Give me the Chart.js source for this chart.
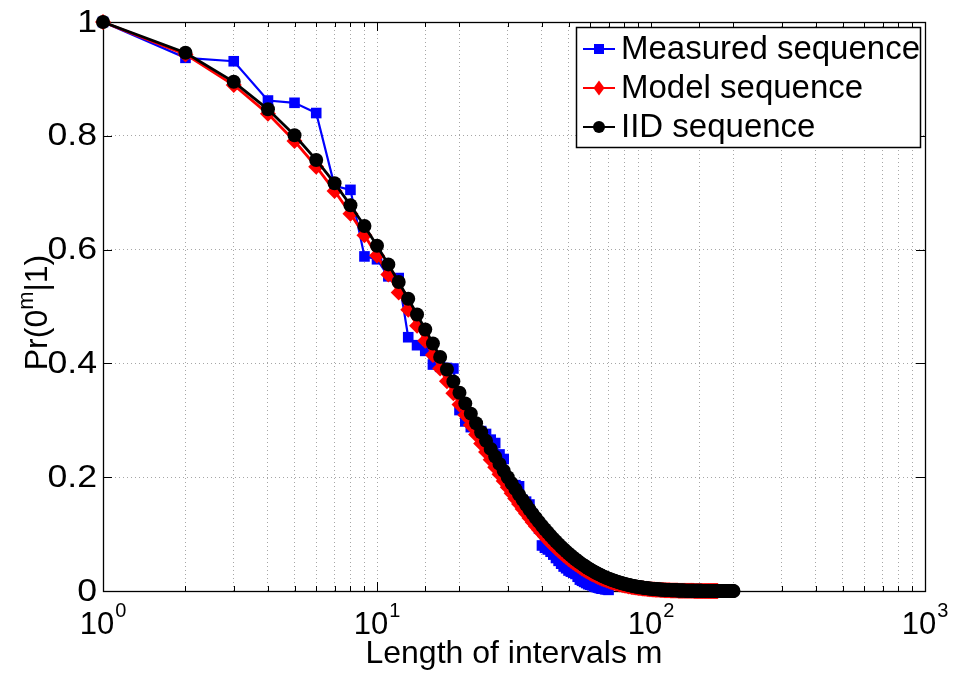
<!DOCTYPE html>
<html>
<head>
<meta charset="utf-8">
<script src="https://cdn.jsdelivr.net/npm/chart.js@4/dist/chart.umd.min.js"></script>
<style>
  html, body { margin: 0; padding: 0; background: #fff; }
  #wrap { width: 953px; height: 673px; position: relative; }
</style>
</head>
<body>
<div id="wrap"><canvas id="c" width="953" height="673"></canvas></div>
<script>
// ---- Data; index i corresponds to m = i + 1 ----
const seriesNames = ['Measured sequence', 'Model sequence', 'IID sequence'];

const measuredValues = [
  1.000, 0.937, 0.931, 0.862, 0.858, 0.840, 0.712, 0.705, 0.588, 0.583,
  0.553, 0.550, 0.446, 0.432, 0.422, 0.398, 0.394, 0.392, 0.391, 0.318,
  0.298, 0.288, 0.284, 0.281, 0.276, 0.266, 0.260, 0.240, 0.232, 0.188,
  0.187, 0.186, 0.184, 0.160, 0.157, 0.152, 0.135, 0.124, 0.110, 0.080,
  0.076, 0.073, 0.069, 0.064, 0.058, 0.053, 0.048, 0.043, 0.040, 0.036,
  0.034, 0.032, 0.030, 0.025, 0.020, 0.018, 0.016, 0.014, 0.012, 0.011,
  0.010, 0.008, 0.007, 0.006, 0.005, 0.004, 0.004, 0.003, 0.003, 0.002
];

const modelValues = [
  1.0000, 0.9430, 0.8892, 0.8386, 0.7908, 0.7457, 0.7032, 0.6631, 0.6253, 0.5897,
  0.5561, 0.5244, 0.4945, 0.4663, 0.4397, 0.4147, 0.3910, 0.3688, 0.3477, 0.3279,
  0.3092, 0.2916, 0.2750, 0.2593, 0.2445, 0.2306, 0.2174, 0.2050, 0.1934, 0.1823,
  0.1719, 0.1621, 0.1529, 0.1442, 0.1360, 0.1282, 0.1209, 0.1140, 0.1075, 0.1014,
  0.0956, 0.0902, 0.0850, 0.0802, 0.0756, 0.0713, 0.0672, 0.0634, 0.0598, 0.0564,
  0.0532, 0.0501, 0.0473, 0.0446, 0.0420, 0.0396, 0.0374, 0.0353, 0.0332, 0.0313,
  0.0296, 0.0279, 0.0263, 0.0248, 0.0234, 0.0220, 0.0208, 0.0196, 0.0185, 0.0174,
  0.0164, 0.0155, 0.0146, 0.0138, 0.0130, 0.0123, 0.0116, 0.0109, 0.0103, 0.0097,
  0.0091, 0.0086, 0.0081, 0.0077, 0.0072, 0.0068, 0.0064, 0.0061, 0.0057, 0.0054,
  0.0051, 0.0048, 0.0045, 0.0043, 0.0040, 0.0038, 0.0036, 0.0034, 0.0032, 0.0030,
  0.0028, 0.0027, 0.0025, 0.0024, 0.0022, 0.0021, 0.0020, 0.0019, 0.0018, 0.0017,
  0.0016, 0.0015, 0.0014, 0.0013, 0.0012, 0.0012, 0.0011, 0.0010, 0.0010, 0.0009,
  0.0009, 0.0008, 0.0008, 0.0007, 0.0007, 0.0006, 0.0006, 0.0006, 0.0005, 0.0005,
  0.0005, 0.0004, 0.0004, 0.0004, 0.0004, 0.0004, 0.0003, 0.0003, 0.0003, 0.0003,
  0.0003, 0.0003, 0.0003, 0.0002, 0.0002, 0.0002, 0.0002, 0.0002, 0.0002, 0.0002,
  0.0002, 0.0002, 0.0002, 0.0002, 0.0002, 0.0001, 0.0001, 0.0001, 0.0001, 0.0001,
  0.0001, 0.0001, 0.0001, 0.0001, 0.0001, 0.0001, 0.0001, 0.0001, 0.0001, 0.0001,
  0.0001, 0.0001, 0.0001, 0.0001, 0.0001
];

const iidValues = [
  1.0000, 0.9460, 0.8949, 0.8466, 0.8009, 0.7576, 0.7167, 0.6780, 0.6414, 0.6068,
  0.5740, 0.5430, 0.5137, 0.4860, 0.4597, 0.4349, 0.4114, 0.3892, 0.3682, 0.3483,
  0.3295, 0.3117, 0.2949, 0.2790, 0.2639, 0.2497, 0.2362, 0.2234, 0.2114, 0.2000,
  0.1892, 0.1790, 0.1693, 0.1602, 0.1515, 0.1433, 0.1356, 0.1283, 0.1214, 0.1148,
  0.1086, 0.1027, 0.0972, 0.0919, 0.0870, 0.0823, 0.0778, 0.0736, 0.0697, 0.0659,
  0.0623, 0.0590, 0.0558, 0.0528, 0.0499, 0.0472, 0.0447, 0.0423, 0.0400, 0.0378,
  0.0358, 0.0338, 0.0320, 0.0303, 0.0287, 0.0271, 0.0256, 0.0243, 0.0229, 0.0217,
  0.0205, 0.0194, 0.0184, 0.0174, 0.0164, 0.0156, 0.0147, 0.0139, 0.0132, 0.0125,
  0.0118, 0.0112, 0.0106, 0.0100, 0.0094, 0.0089, 0.0085, 0.0080, 0.0076, 0.0072,
  0.0068, 0.0064, 0.0061, 0.0057, 0.0054, 0.0051, 0.0049, 0.0046, 0.0044, 0.0041,
  0.0039, 0.0037, 0.0035, 0.0033, 0.0031, 0.0030, 0.0028, 0.0026, 0.0025, 0.0024,
  0.0022, 0.0021, 0.0020, 0.0019, 0.0018, 0.0017, 0.0016, 0.0015, 0.0014, 0.0013,
  0.0013, 0.0012, 0.0011, 0.0011, 0.0010, 0.0009, 0.0009, 0.0008, 0.0008, 0.0008,
  0.0007, 0.0007, 0.0006, 0.0006, 0.0006, 0.0005, 0.0005, 0.0005, 0.0005, 0.0004,
  0.0004, 0.0004, 0.0004, 0.0004, 0.0003, 0.0003, 0.0003, 0.0003, 0.0003, 0.0003,
  0.0003, 0.0003, 0.0003, 0.0002, 0.0002, 0.0002, 0.0002, 0.0002, 0.0002, 0.0002,
  0.0002, 0.0002, 0.0002, 0.0001, 0.0001, 0.0001, 0.0001, 0.0001, 0.0001, 0.0001,
  0.0001, 0.0001, 0.0001, 0.0001, 0.0001, 0.0001, 0.0001, 0.0001, 0.0001, 0.0001,
  0.0001, 0.0001, 0.0001, 0.0001, 0.0001, 0.0001, 0.0001, 0.0001, 0.0001, 0.0001,
  0.0001, 0.0001, 0.0001, 0.0001, 0.0001, 0.0001, 0.0001, 0.0001, 0.0001, 0.0001
];

const xTickExponents = [0, 1, 2, 3];
const yTickLabels = ['0', '0.2', '0.4', '0.6', '0.8', '1'];
const xTitle = 'Length of intervals m';
const yTitleParts = ['Pr(0', 'm', '|1)'];

// ---- build point lists (m = index + 1) ----
const toPoints = arr => arr.map((v, i) => ({ x: i + 1, y: v }));

const FONT = '"Liberation Sans", Arial, Helvetica, sans-serif';

const framePlugin = {
  id: 'frame',
  beforeDatasetsDraw(chart) {
    const { ctx, chartArea: a, scales: { x, y } } = chart;
    ctx.save();
    ctx.strokeStyle = '#000';
    ctx.lineWidth = 1;
    ctx.beginPath();
    x.ticks.forEach(t => {
      const lg = Math.log10(t.value);
      const major = Math.abs(lg - Math.round(lg)) < 1e-9;
      const px = Math.round(x.getPixelForValue(t.value)) + 0.5;
      const len = major ? 9 : 5;
      ctx.moveTo(px, a.bottom); ctx.lineTo(px, a.bottom - len);
      ctx.moveTo(px, a.top); ctx.lineTo(px, a.top + len);
    });
    y.ticks.forEach(t => {
      const py = Math.round(y.getPixelForValue(t.value)) + 0.5;
      ctx.moveTo(a.left, py); ctx.lineTo(a.left + 9, py);
      ctx.moveTo(a.right, py); ctx.lineTo(a.right - 9, py);
    });
    ctx.stroke();
    ctx.lineWidth = 1.3;
    ctx.strokeRect(Math.round(a.left) + 0.5, Math.round(a.top) + 0.5,
                   Math.round(a.width), Math.round(a.height));
    ctx.restore();
  },
  afterDraw(chart) {
    const { ctx, chartArea: a, scales: { x, y } } = chart;
    ctx.save();
    ctx.fillStyle = '#000';
    // y tick labels (slightly wide glyphs, as in the reference)
    ctx.font = '31px ' + FONT;
    ctx.textAlign = 'right';
    ctx.textBaseline = 'middle';
    yTickLabels.forEach(lbl => {
      const py = y.getPixelForValue(parseFloat(lbl));
      ctx.save();
      ctx.translate(a.left - 6, py + 1);
      ctx.scale(1.15, 1);
      ctx.fillText(lbl, 0, 0);
      ctx.restore();
    });
    // x tick labels 10^n
    ctx.textBaseline = 'alphabetic';
    ctx.textAlign = 'left';
    xTickExponents.forEach(e => {
      const px = x.getPixelForValue(Math.pow(10, e));
      ctx.font = '31px ' + FONT;
      const wBase = ctx.measureText('10').width;
      ctx.font = '20px ' + FONT;
      const wExp = ctx.measureText(String(e)).width;
      const start = px - (wBase + wExp + 1) / 2;
      ctx.font = '31px ' + FONT;
      ctx.fillText('10', start, a.bottom + 43);
      ctx.font = '20px ' + FONT;
      ctx.fillText(String(e), start + wBase + 1, a.bottom + 26);
    });
    // x title
    ctx.font = '32px ' + FONT;
    ctx.textAlign = 'center';
    ctx.fillText(xTitle, (a.left + a.right) / 2, a.bottom + 72);
    // y title (rotated, with superscript m)
    ctx.save();
    ctx.translate(47, (a.top + a.bottom) / 2 + 6);
    ctx.rotate(-Math.PI / 2);
    ctx.textAlign = 'left';
    ctx.font = '32px ' + FONT;
    const w1 = ctx.measureText(yTitleParts[0]).width;
    const w3 = ctx.measureText(yTitleParts[2]).width;
    ctx.font = '22px ' + FONT;
    const w2 = ctx.measureText(yTitleParts[1]).width;
    let sx = -(w1 + w2 + w3) / 2;
    ctx.font = '32px ' + FONT;
    ctx.fillText(yTitleParts[0], sx, 0);
    sx += w1;
    ctx.font = '22px ' + FONT;
    ctx.fillText(yTitleParts[1], sx, -14);
    sx += w2;
    ctx.font = '32px ' + FONT;
    ctx.fillText(yTitleParts[2], sx, 0);
    ctx.restore();

    // legend (inside, top-right)
    const boxW = 344, boxH = 120;
    const bx = a.right - 5 - boxW, by = a.top + 5;
    ctx.fillStyle = '#fff';
    ctx.fillRect(bx, by, boxW, boxH);
    ctx.strokeStyle = '#000';
    ctx.lineWidth = 1.5;
    ctx.strokeRect(bx + 0.5, by + 0.5, boxW, boxH);
    chart.data.datasets.forEach((ds, i) => {
      const cy = by + 22 + i * 39;
      const lx0 = bx + 7, lx1 = bx + 39, mx = bx + 23;
      ctx.strokeStyle = ds.borderColor;
      ctx.fillStyle = ds.backgroundColor;
      ctx.lineWidth = 2;
      ctx.beginPath();
      ctx.moveTo(lx0, cy); ctx.lineTo(lx1, cy);
      ctx.stroke();
      ctx.beginPath();
      if (ds.pointStyle === 'rect') {
        ctx.rect(mx - 5, cy - 5, 10, 10);
      } else if (ds.pointStyle === 'rectRot') {
        ctx.moveTo(mx, cy - 7.5); ctx.lineTo(mx + 5.5, cy); ctx.lineTo(mx, cy + 7.5); ctx.lineTo(mx - 5.5, cy);
        ctx.closePath();
      } else {
        ctx.arc(mx, cy, 6, 0, Math.PI * 2);
      }
      ctx.fill();
      ctx.fillStyle = '#000';
      ctx.font = '33px ' + FONT;
      ctx.textAlign = 'left';
      ctx.textBaseline = 'middle';
      ctx.fillText(ds.label, bx + 45, cy + 1);
    });
    ctx.restore();
  }
};

const gridStyle = { color: 'rgba(0,0,0,0.35)', lineWidth: 1, drawTicks: false };

new Chart(document.getElementById('c'), {
  type: 'line',
  data: {
    datasets: [
      {
        label: seriesNames[0],
        data: toPoints(measuredValues),
        borderColor: '#0000ff',
        backgroundColor: '#0000ff',
        borderWidth: 2.2,
        pointStyle: 'rect',
        pointRadius: 7.5,
        pointBorderWidth: 0,
        order: 3,
        clip: false
      },
      {
        label: seriesNames[1],
        data: toPoints(modelValues),
        borderColor: '#ff0000',
        backgroundColor: '#ff0000',
        borderWidth: 2.8,
        pointStyle: 'rectRot',
        pointRadius: 8,
        pointBorderWidth: 0,
        order: 2,
        clip: false
      },
      {
        label: seriesNames[2],
        data: toPoints(iidValues),
        borderColor: '#000000',
        backgroundColor: '#000000',
        borderWidth: 2.8,
        pointStyle: 'circle',
        pointRadius: 7,
        pointBorderWidth: 0,
        order: 1,
        clip: false
      }
    ]
  },
  options: {
    responsive: false,
    animation: false,
    devicePixelRatio: 1,
    layout: { padding: { left: 103, right: 28, top: 22, bottom: 82 } },
    plugins: { legend: { display: false }, tooltip: { enabled: false } },
    elements: { line: { tension: 0 } },
    scales: {
      x: {
        type: 'logarithmic',
        min: 1,
        max: 1000,
        ticks: { display: false },
        grid: gridStyle,
        border: { display: false, dash: [1, 3] },
        afterFit(s) { s.height = 0; }
      },
      y: {
        type: 'linear',
        min: 0,
        max: 1,
        ticks: { display: false, stepSize: 0.2 },
        grid: gridStyle,
        border: { display: false, dash: [1, 3] },
        afterFit(s) { s.width = 0; }
      }
    }
  },
  plugins: [framePlugin]
});
</script>
</body>
</html>
